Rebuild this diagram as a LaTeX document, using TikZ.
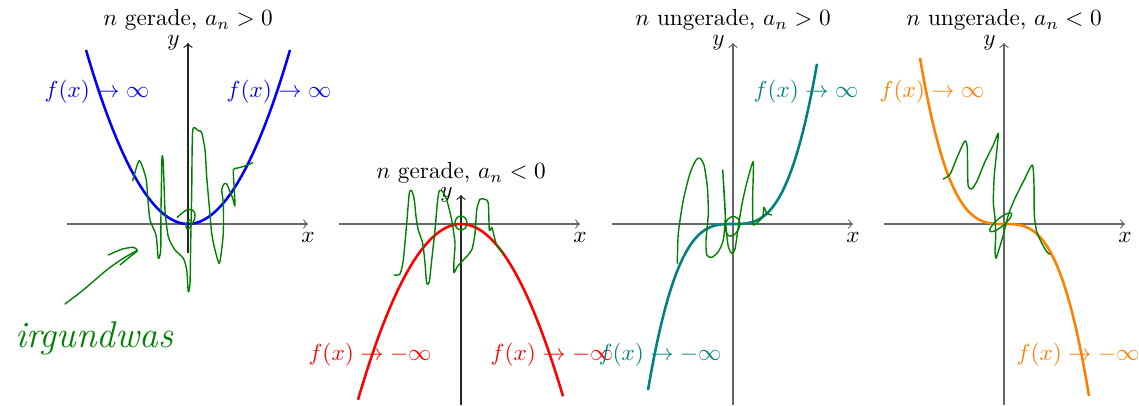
\documentclass[tikz,border=0pt]{standalone}
\usepackage{amsmath}

\tikzset{
  axis/.style={->, black!60, line width=0.55pt},
  yaxis/.style={axis, black!85},
  axlabel/.style={text=black},
  graph/.style={line width=1.1pt},
  ink/.style={green!50!black, line width=0.6pt, line cap=round, line join=round},
}

\begin{document}
\begin{tikzpicture}[x=0.43pt, y=0.43pt]
  \useasboundingbox (0,0) rectangle (1139,406);

  % n gerade, a_n > 0
  \begin{scope}[shift={(188,182)}]
    \draw[axis] (-121,0) -- (120,0) node[below, axlabel] (x1) {$x$};
    \draw[yaxis] (0,-29) -- (0,181) node[left, axlabel] (y1) {$y$};
    \node (t1) at (0,204) {$n$ gerade, $a_n>0$};
    \draw[graph, blue] plot[domain=-102:102, samples=60] (\x, {174*(\x/102)*(\x/102)});
    \node[blue] (l1a) at (-91,132) {$f(x)\to\infty$};
    \node[blue] (l1b) at (91,132) {$f(x)\to\infty$};
    \draw[ink] plot[smooth, tension=0.4] coordinates {(-55.3,43.3) (-48.7,63.3) (-42,45.7) (-40.3,27.3) (-38,4) (-32,-11) (-29.7,-34.3) (-27.3,-26) (-27,14) (-26,66.3) (-24.7,60.7) (-23,14) (-19.7,-12.7) (-13,-26) (-4.7,-34.3) (-1.3,-46) (0.3,-67.7) (2,-59.3) (2.7,-19.3) (3.7,30.7) (4.7,93.3) (10.3,93.3) (13.7,91.3) (17,74) (18.7,47.3) (21.3,17.3) (23.7,-9.3) (27,-26) (31,-39.3) (32.7,-32.7) (35.3,-9.3) (35.3,20.7) (33.7,34) (36,40) (38.7,40) (41.3,34) (44.7,25.7) (47,18) (46.3,34) (45.3,54) (48.7,55.7) (57,58) (64.7,61.3)};
    \draw[ink] plot[smooth, tension=0.6] coordinates {(-10.7,6.7) (-1.3,14) (5.3,13.3) (7,7.3) (3.7,-1) (-0.7,-5.3) (-2,0.7) (2,4)};
    % Pfeil und Notiz
    \draw[ink] plot[smooth, tension=0.5] coordinates {(-123,-80) (-104.7,-66) (-81.3,-46) (-64.7,-34.3) (-51.3,-26.7)};
    \draw[ink] plot[smooth, tension=0.4] coordinates {(-79.7,-31) (-66.3,-25.3) (-54.7,-23.3) (-50.7,-26.7) (-58,-32.7) (-68,-41)};
    \node[green!50!black, font=\itshape\fontsize{16}{19}\selectfont] (note) at (-94,-114) {irgundwas};
  \end{scope}

  % n gerade, a_n < 0
  \begin{scope}[shift={(461,182)}]
    \draw[axis] (-122,0) -- (119,0) node[below, axlabel] (x2) {$x$};
    \draw[yaxis] (0,-181) -- (0,29) node[left, axlabel] (y2) {$y$};
    \node (t2) at (0,51) {$n$ gerade, $a_n<0$};
    \draw[graph, red] plot[domain=-103:102, samples=60] (\x, {-174*(\x/102.5)*(\x/102.5)});
    \node[red] (l2a) at (-91,-131) {$f(x)\to-\infty$};
    \node[red] (l2b) at (91,-131) {$f(x)\to-\infty$};
    \draw[ink] plot[smooth, tension=0.4] coordinates {(-66.7,-51) (-61,-50) (-57.7,-36) (-54.3,0.7) (-51.7,30.7) (-49.3,33.3) (-46.7,24) (-45,7.3) (-42.7,-6) (-38.3,-19.3) (-36,-39.3) (-34.3,-59.3) (-31.7,-57.7) (-29.3,-36) (-26,-6) (-23.7,20.7) (-21.7,33.3) (-18.3,32.3) (-14.3,24) (-9.3,4) (-6,-19.3) (-7,-36) (-7,-48.7) (-3.7,-42.7) (2.3,-36) (10.7,-26) (14,-9.3) (15.7,14) (19,24.7) (24,24.7) (27.3,20.7) (28.3,-6) (30.7,-3.3) (32.3,-8.7) (35.7,-21) (42.3,-29.3)};
    \draw[ink] (0,1) ellipse (6 and 7);
  \end{scope}

  % n ungerade, a_n > 0
  \begin{scope}[shift={(733,182)}]
    \draw[axis] (-121,0) -- (120,0) node[below, axlabel] (x3) {$x$};
    \draw[axis] (0,-181) -- (0,181) node[left, axlabel] (y3) {$y$};
    \node (t3) at (0,204) {$n$ ungerade, $a_n>0$};
    \draw[graph, teal] plot[domain=-85:84, samples=60] (\x, {166*(\x/85)*(\x/85)*(\x/85)});
    \node[teal] (l3a) at (73,132) {$f(x)\to\infty$};
    \node[teal] (l3b) at (-73,-131) {$f(x)\to-\infty$};
    \draw[ink] plot[smooth, tension=0.4] coordinates {(-55.7,-39.3) (-54.7,-9.3) (-49.7,24) (-43,50.7) (-37,64) (-33,65.7) (-29,59) (-25.7,37.3) (-24.7,10.7) (-27,-16) (-26.3,-31) (-21.3,-33.3) (-14.7,-27.7) (-9.7,-16) (-7.7,7.3) (-9,34) (-10.3,54) (-9,30.7) (-7,-2.7) (-4.7,-22.7) (-1.3,-29.3) (2,-25) (5,-5) (9,20) (14,42) (20.3,62.3) (19.7,30) (19.7,7.3) (20.3,-1) (25.3,2.3) (29.7,7.3) (31,16.7) (33.7,10.7) (38.7,9)};
    \draw[ink] plot[smooth cycle, tension=0.7] coordinates {(-8,-3) (-4,-12) (3,-9) (7,1) (2,7.3) (-5,5)};
  \end{scope}

  % n ungerade, a_n < 0
  \begin{scope}[shift={(1004,182)}]
    \draw[axis] (-120,0) -- (121,0) node[below, axlabel] (x4) {$x$};
    \draw[axis] (0,-181) -- (0,181) node[left, axlabel] (y4) {$y$};
    \node (t4) at (0,204) {$n$ ungerade, $a_n<0$};
    \draw[graph, orange] plot[domain=-84:85, samples=60] (\x, {-166*(\x/84)*(\x/84)*(\x/84)});
    \node[orange] (l4a) at (-72,132) {$f(x)\to\infty$};
    \node[orange] (l4b) at (74,-131) {$f(x)\to-\infty$};
    \draw[ink] plot[smooth, tension=0.4] coordinates {(-60.7,45) (-54,49.7) (-47.3,65.7) (-40.7,80.7) (-38.3,83) (-36.7,75.7) (-36.3,49) (-35.7,37.3) (-32.3,35) (-27.3,42.3) (-19,62.3) (-10.7,79) (-5.7,90.7) (-7.3,72.3) (-9.7,49) (-10.7,22.3) (-9,5.7) (-8.3,-11) (-9,-27.7) (-8,-34.3) (-5.7,-27.7) (-0.7,-11) (4.3,9) (11,25.7) (19.3,42.3) (28.3,59) (30,39) (30.3,9) (32.7,-7.7) (37,-17.7) (42.7,-27.7) (46,-30.3)};
    \draw[ink, rotate around={40:(-3.3,1.7)}] (-3.3,1.7) ellipse (14 and 4);
  \end{scope}
\end{tikzpicture}
\end{document}
